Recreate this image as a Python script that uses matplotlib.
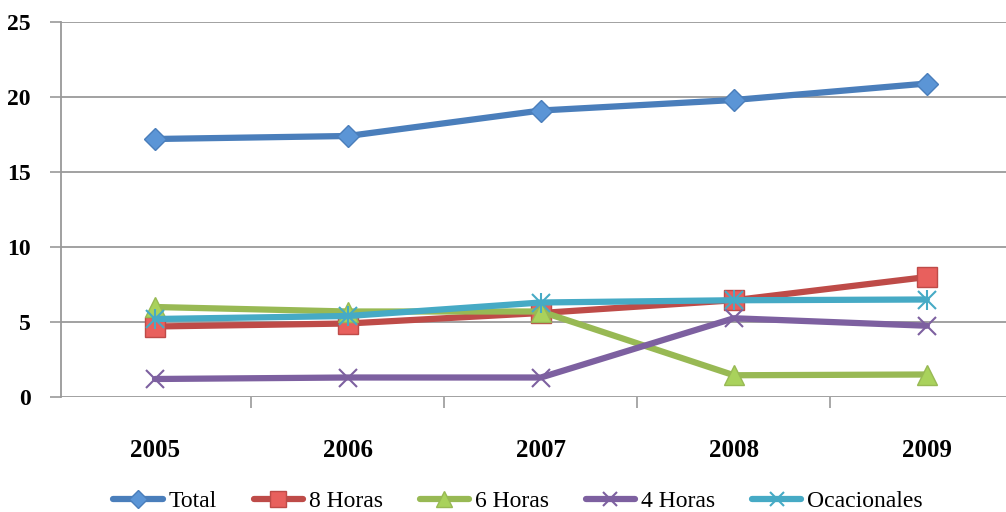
import matplotlib
matplotlib.use("Agg")
import matplotlib.pyplot as plt
from matplotlib.ticker import FixedLocator

years = ["2005", "2006", "2007", "2008", "2009"]
total = [17.2, 17.4, 19.1, 19.8, 20.9]
h8 = [4.7, 4.9, 5.6, 6.45, 8.0]
h6 = [6.0, 5.7, 5.7, 1.45, 1.5]
h4 = [1.2, 1.3, 1.3, 5.25, 4.75]
ocas = [5.2, 5.4, 6.3, 6.45, 6.5]
yticks = [0, 5, 10, 15, 20, 25]

series = [
    ("Total", total, "#4A7EBB", "#5B95D6", "D", 11),
    ("8 Horas", h8, "#BE4B48", "#E8605D", "s", 14),
    ("6 Horas", h6, "#98B954", "#A9D25C", "^", 14),
    ("4 Horas", h4, "#7D60A0", "#7D60A0", "x", 13),
    ("Ocacionales", ocas, "#46AAC5", "#46AAC5", "x", 13),
]

fig = plt.figure(figsize=(10.06, 5.12), dpi=100)
ax = fig.add_axes([61 / 1006, 1 - 397 / 512, 1 - 61 / 1006, (397 - 22) / 512])

x = list(range(len(years)))
handles = []
for name, vals, col, fill, mk, ms in series:
    if name == "Ocacionales":
        l, = ax.plot(x, vals, color=col, lw=4.5, marker="x", ms=ms,
                     mew=1.5, mec=col, solid_capstyle="round", zorder=3)
        ax.plot(x, vals, ls="none", marker="|", ms=ms + 2, mew=1.5, mec=col, zorder=3)
    else:
        l, = ax.plot(x, vals, color=col, lw=4.5, marker=mk, ms=ms,
                     mfc=fill, mec=col,
                     mew=1.5 if mk == "x" else 1.0, solid_capstyle="round", zorder=3)
    l.set_label(name)
    handles.append(l)

ax.set_xlim(-0.487, 4.41)
ax.set_ylim(0, 25)
ax.set_yticks(yticks)
ax.set_yticklabels([str(v) for v in yticks], fontfamily="Liberation Serif",
                   fontsize=17, fontweight="bold")
ax.set_xticks(x)
ax.set_xticklabels(years, fontfamily="Liberation Serif", fontsize=18, fontweight="bold")
ax.xaxis.set_minor_locator(FixedLocator([-0.5 + i for i in range(6)]))
ax.tick_params(axis="x", which="major", length=0, pad=30)
ax.tick_params(axis="x", which="minor", length=8, color="#999999", width=1.2)
ax.tick_params(axis="y", length=8, color="#999999", width=1.2, pad=14)

ax.grid(axis="y", color="#9a9a9a", lw=1.3)
ax.set_axisbelow(True)
for s in ["top", "right", "bottom"]:
    ax.spines[s].set_visible(False)
ax.spines["left"].set_color("#999999")
ax.spines["left"].set_linewidth(1.3)

leg = fig.legend(handles=handles, loc="lower center", bbox_to_anchor=(0.515, -0.042), ncol=5,
                 frameon=False, prop={"family": "Liberation Serif", "size": 17},
                 handlelength=2.1, columnspacing=1.55, handletextpad=0.25,
                 markerscale=0.8)

fig.savefig("out.png", dpi=100)
